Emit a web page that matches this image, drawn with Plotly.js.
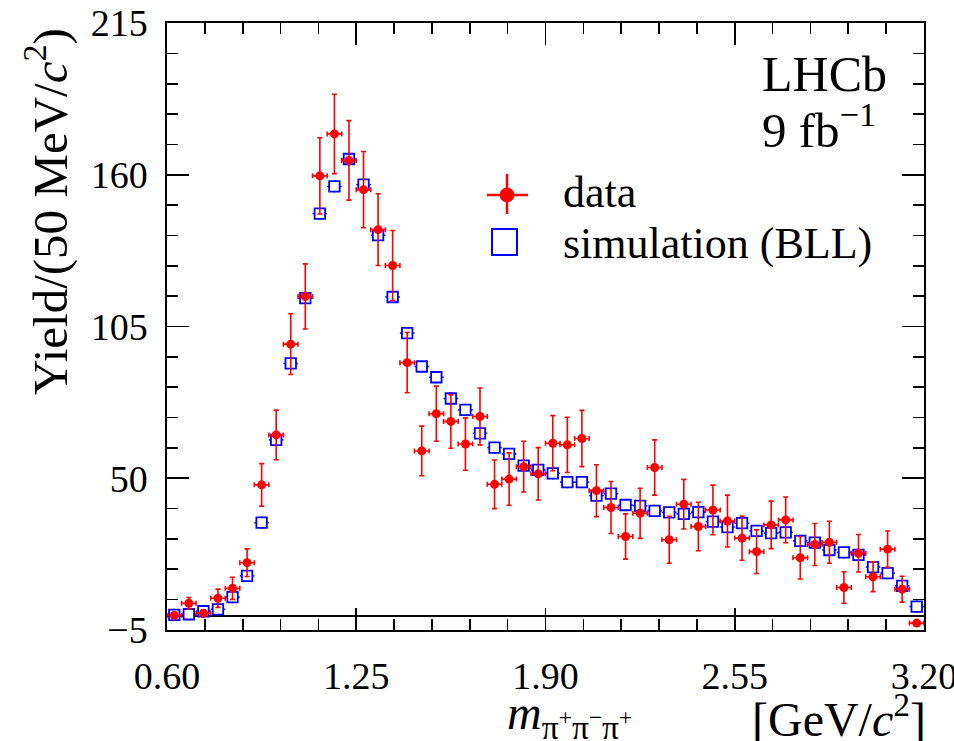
<!DOCTYPE html>
<html>
<head>
<meta charset="utf-8">
<script src="https://cdn.plot.ly/plotly-3.0.1.min.js"></script>
<style>html,body{margin:0;padding:0;background:#fff;}#chart{width:954px;height:741px;}</style>
</head>
<body>
<div id="chart"></div>
<script>
// bin centres (GeV/c^2), 50 MeV bins
const massBins = [0.625,0.675,0.725,0.775,0.825,0.875,0.925,0.975,1.025,1.075,1.125,1.175,1.225,1.275,1.325,1.375,1.425,1.475,1.525,1.575,1.625,1.675,1.725,1.775,1.825,1.875,1.925,1.975,2.025,2.075,2.125,2.175,2.225,2.275,2.325,2.375,2.425,2.475,2.525,2.575,2.625,2.675,2.725,2.775,2.825,2.875,2.925,2.975,3.025,3.075,3.125,3.175];
// data yields and uncertainties
const dataYield = [0.3,4.7,1.1,6.5,10.1,19.4,47.6,65.7,98.6,115.9,159.6,174.8,165.2,154.6,140.1,127.1,91.9,59.9,73.4,70.6,62.4,72.4,47.8,49.7,54.2,51.6,62.7,62.1,64.4,45.5,39.4,28.9,37.3,53.9,27.7,40.6,32.5,38.5,34.5,28.3,23.4,33.1,34.9,21.2,26.0,26.8,10.4,22.8,14.3,24.3,9.8,-2.5];
const dataErr = [1.0,2.1,1.2,3.3,4.0,5.0,7.7,9.0,11.0,11.8,13.8,14.4,14.4,13.8,13.0,12.7,10.9,9.0,10.0,9.7,9.5,10.3,8.8,9.5,9.2,9.5,10.0,10.0,10.2,9.4,9.4,8.2,9.1,10.0,8.5,9.0,8.8,9.0,9.4,8.0,7.9,8.6,8.3,7.7,7.6,7.6,5.7,6.8,5.4,6.6,4.7,1.0];
// simulation (BLL) yields
const simYield = [0.5,0.7,1.8,2.5,6.9,14.6,33.9,63.9,91.6,115.3,145.9,155.8,165.7,156.4,138.1,115.7,102.6,90.5,86.6,78.9,74.8,66.3,61.1,58.8,54.6,53.0,51.8,48.6,48.6,43.7,44.4,40.3,40.0,38.2,37.6,37.1,37.7,34.3,32.3,33.7,30.9,30.1,30.4,27.3,26.7,24.0,23.1,22.2,17.8,15.6,11.0,3.5];
const simErr = 2.2;
const binHalfWidth = 0.025;
// axis ticks
const xTickVals = [0.60, 1.25, 1.90, 2.55, 3.20];
const xTickText = ['0.60', '1.25', '1.90', '2.55', '3.20'];
const xMinorDtick = 0.13;
const yTickVals = [-5, 50, 105, 160, 215];
const yTickText = ['\u22125', '50', '105', '160', '215'];
const yMinorDtick = 11;
const xRange = [0.6, 3.2], yRange = [-5, 215];

const FONT = 'Liberation Serif';
const L = 167, R = 924, T = 23, B = 630;
const px = x => (x - L) / (R - L);
const py = y => (B - y) / (B - T);

const traces = [
  {
    type: 'scatter', mode: 'markers', name: 'simulation (BLL)',
    x: massBins, y: simYield,
    marker: {symbol: 'square', size: 10.5, color: 'white', line: {color: '#0000ff', width: 1.8}},
    error_y: {type: 'constant', value: simErr, visible: true, color: '#0000ff', thickness: 1.5, width: 0},
    error_x: {type: 'constant', value: binHalfWidth, visible: true, color: '#0000ff', thickness: 1.5, width: 0},
    showlegend: false
  },
  {
    type: 'scatter', mode: 'markers', name: 'data',
    x: massBins, y: dataYield,
    marker: {symbol: 'circle', size: 9, color: '#ff0000'},
    error_y: {type: 'data', array: dataErr, visible: true, color: '#ff0000', thickness: 1.6, width: 2.5},
    error_x: {type: 'constant', value: binHalfWidth, visible: true, color: '#ff0000', thickness: 1.6, width: 2.5},
    showlegend: false
  }
];

const axisCommon = {
  showgrid: false, showline: true, linecolor: 'black', linewidth: 1.6,
  mirror: 'allticks', ticks: 'inside', ticklen: 22, tickwidth: 1.6, tickcolor: 'black',
  tickmode: 'array', ticklabeloverflow: 'allow',
  tickfont: {family: FONT, size: 38, color: 'black'}
};

const layout = {
  width: 954, height: 741,
  margin: {l: L, r: 954 - R, t: T, b: 741 - B, pad: 0},
  paper_bgcolor: 'white', plot_bgcolor: 'white',
  showlegend: false,
  font: {family: FONT, color: 'black'},
  xaxis: Object.assign({}, axisCommon, {
    range: xRange, tickvals: xTickVals, ticktext: xTickText,
    ticklabelstandoff: 12, zeroline: false,
    minor: {dtick: xMinorDtick, tick0: xTickVals[0], ticks: 'inside', ticklen: 11, tickwidth: 1.6, tickcolor: 'black', showgrid: false}
  }),
  yaxis: Object.assign({}, axisCommon, {
    range: yRange, tickvals: yTickVals, ticktext: yTickText,
    ticklabelstandoff: 10,
    zeroline: true, zerolinecolor: 'black', zerolinewidth: 1.6,
    minor: {dtick: yMinorDtick, tick0: yTickVals[0], ticks: 'inside', ticklen: 11, tickwidth: 1.6, tickcolor: 'black', showgrid: false}
  }),
  annotations: [
    {text: 'Yield/(50 MeV/<i>c</i><sup>2</sup>)', textangle: -90, xref: 'paper', yref: 'paper',
     x: px(46), y: py(212), xanchor: 'center', yanchor: 'middle', showarrow: false,
     font: {family: FONT, size: 49, color: 'black'}},
    {text: '<i>m</i><sub>π<sup>+</sup>π<sup>−</sup>π<sup>+</sup></sub>', xref: 'paper', yref: 'paper',
     x: px(505), y: py(716), xanchor: 'left', yanchor: 'middle', showarrow: false,
     font: {family: FONT, size: 48, color: 'black'}},
    {text: '[GeV/<i>c</i><sup>2</sup>]', xref: 'paper', yref: 'paper',
     x: px(928), y: py(716), xanchor: 'right', yanchor: 'middle', showarrow: false,
     font: {family: FONT, size: 48, color: 'black'}},
    {text: 'LHCb', xref: 'paper', yref: 'paper', x: px(760), y: py(74), xanchor: 'left', yanchor: 'middle',
     showarrow: false, font: {family: FONT, size: 50, color: 'black'}},
    {text: '9 fb<sup>−1</sup>', xref: 'paper', yref: 'paper', x: px(760), y: py(127), xanchor: 'left', yanchor: 'middle',
     showarrow: false, font: {family: FONT, size: 49, color: 'black'}},
    {text: 'data', xref: 'paper', yref: 'paper', x: px(561), y: py(192), xanchor: 'left', yanchor: 'middle',
     showarrow: false, font: {family: FONT, size: 44, color: 'black'}},
    {text: 'simulation (BLL)', xref: 'paper', yref: 'paper', x: px(561), y: py(243), xanchor: 'left', yanchor: 'middle',
     showarrow: false, font: {family: FONT, size: 44, color: 'black'}}
  ],
  shapes: [
    {type: 'line', xref: 'paper', yref: 'paper', x0: px(487), x1: px(528), y0: py(195), y1: py(195), line: {color: '#ff0000', width: 2.5}},
    {type: 'line', xref: 'paper', yref: 'paper', x0: px(507), x1: px(507), y0: py(174), y1: py(214), line: {color: '#ff0000', width: 2.5}},
    {type: 'circle', xref: 'paper', yref: 'paper', x0: px(500), x1: px(514), y0: py(202), y1: py(188), fillcolor: '#ff0000', line: {color: '#ff0000', width: 1}},
    {type: 'rect', xref: 'paper', yref: 'paper', x0: px(492), x1: px(517), y0: py(255), y1: py(229), line: {color: '#0000ff', width: 2}}
  ]
};

Plotly.newPlot('chart', traces, layout, {displayModeBar: false, staticPlot: true});
</script>
</body>
</html>
